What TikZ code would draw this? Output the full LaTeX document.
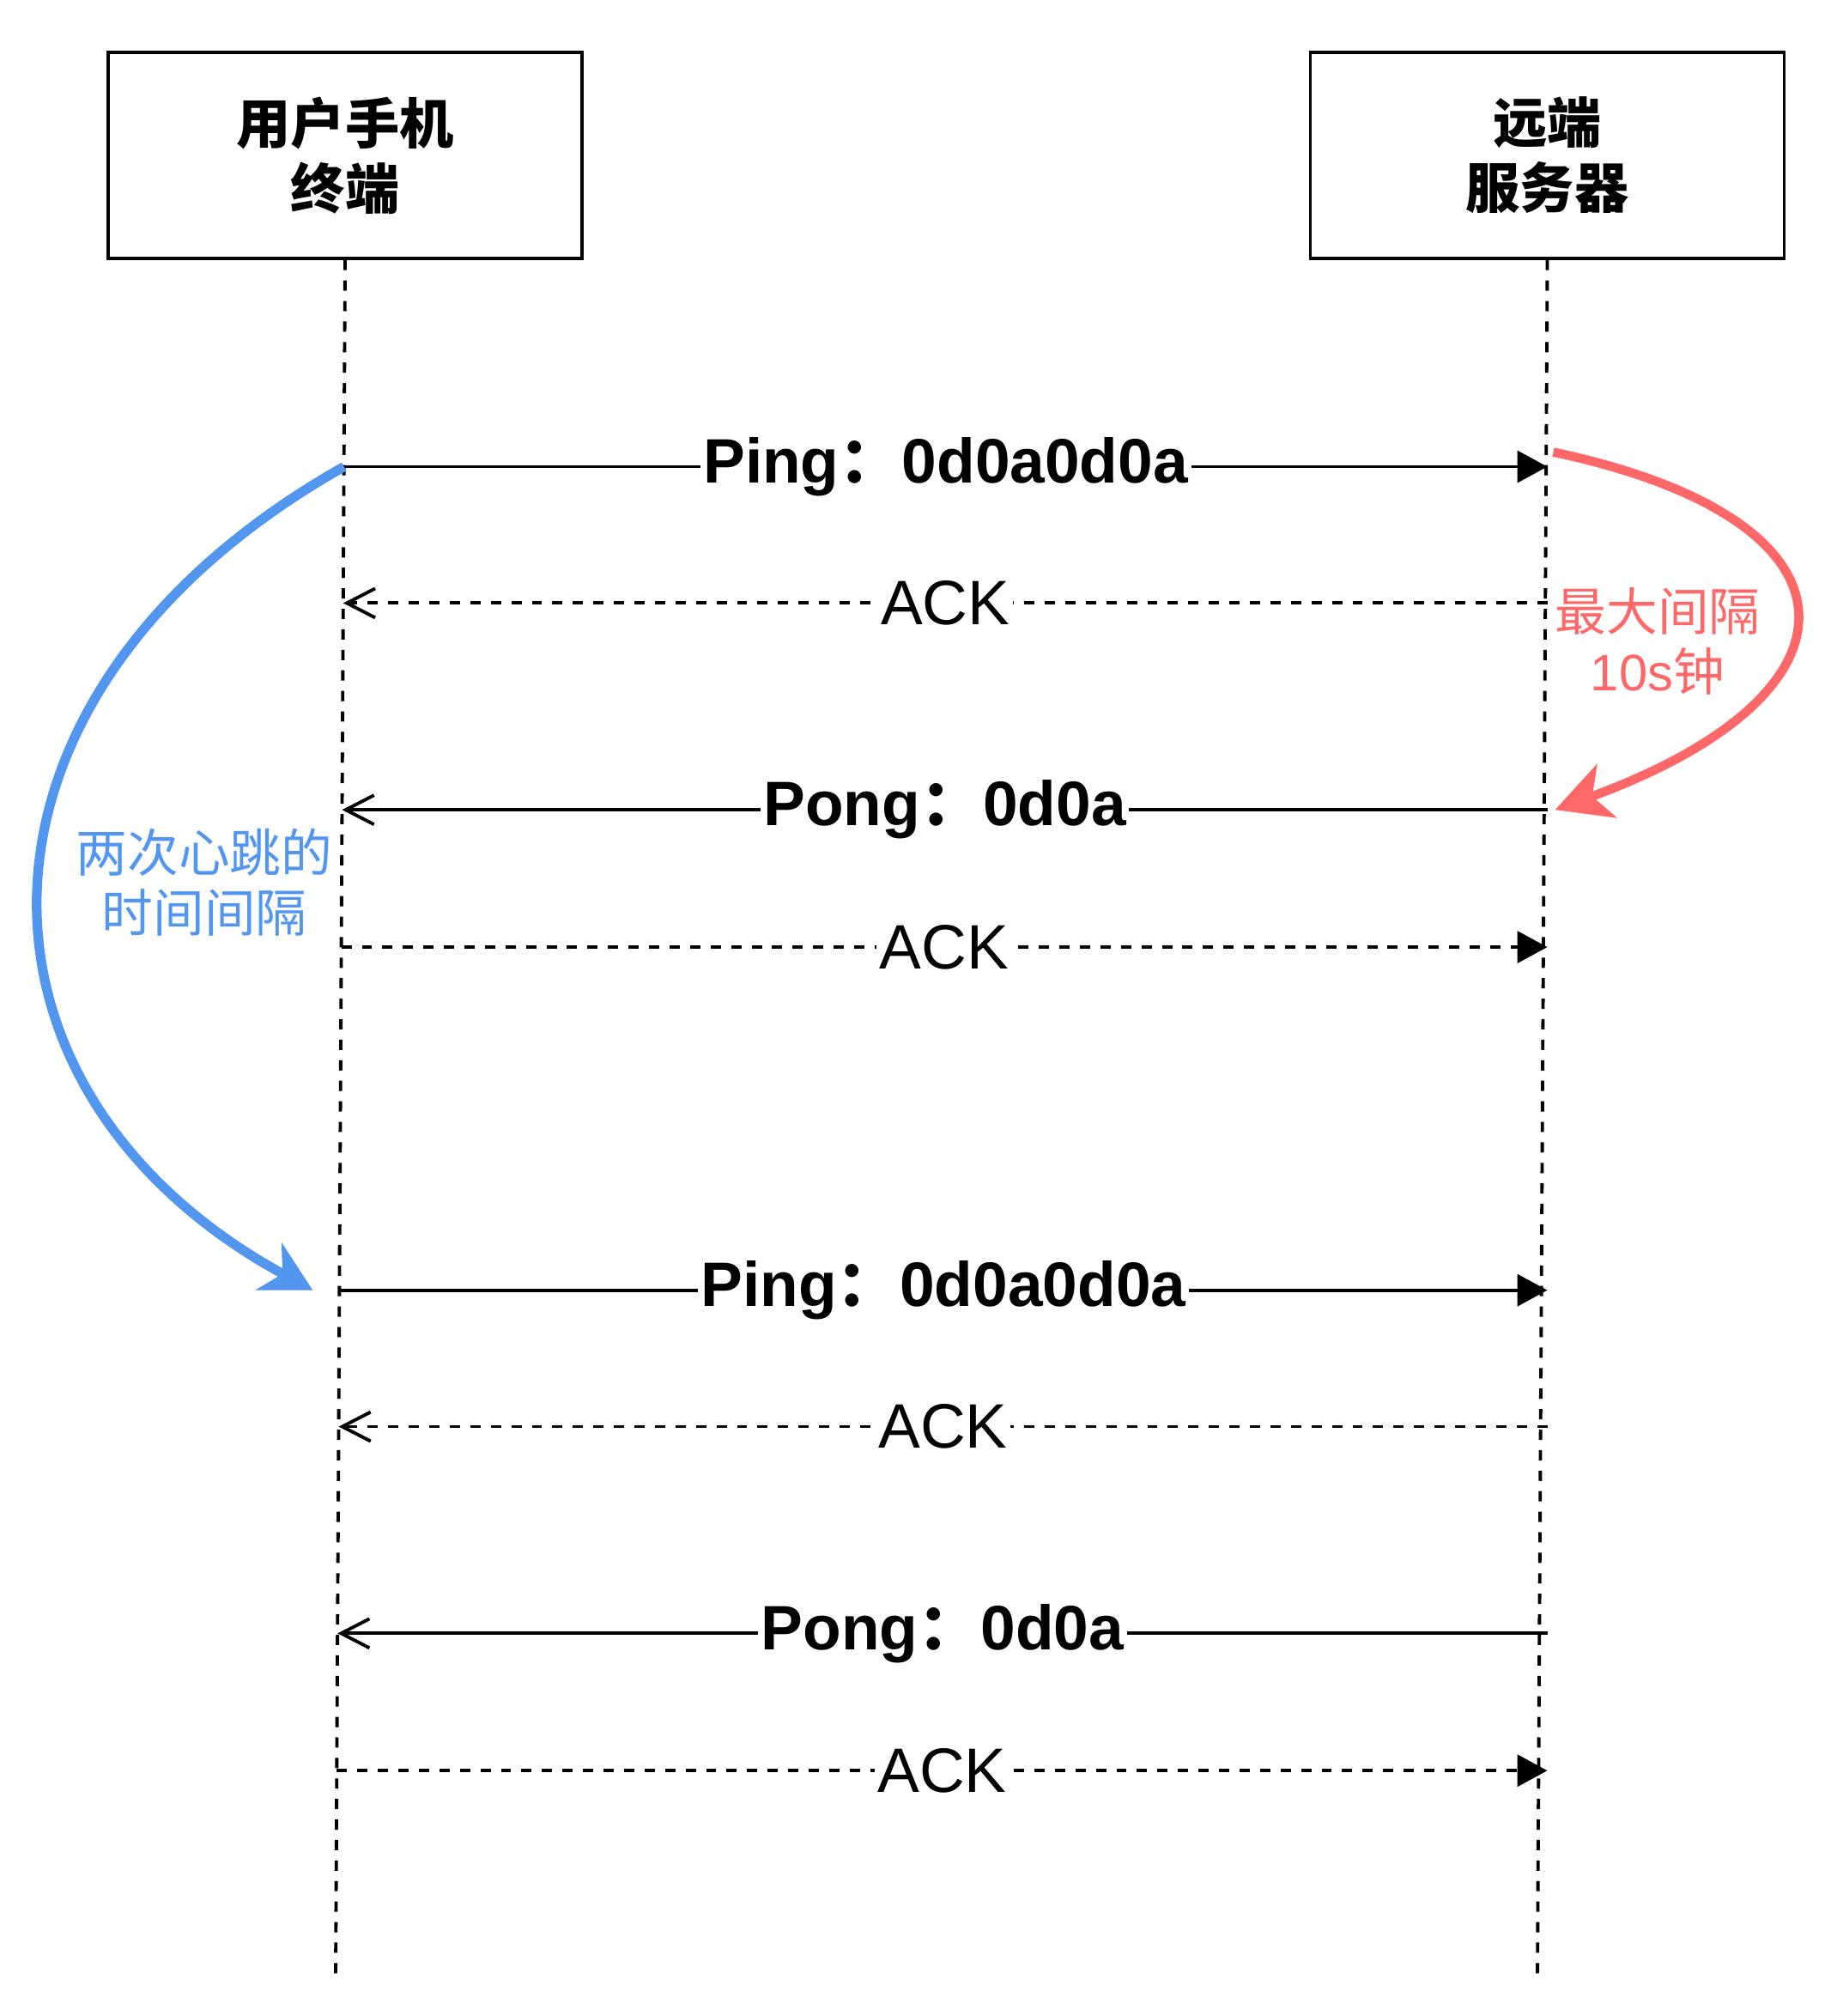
\documentclass[tikz,border=0pt]{standalone}
\usepackage{fontspec}
\setmainfont{Liberation Sans}
\newfontfamily\cjk{Noto Sans CJK SC}
\usetikzlibrary{arrows.meta, positioning, calc}

\definecolor{beatblue}{RGB}{82,150,240}
\definecolor{gapred}{RGB}{255,104,104}

\begin{document}
\begin{tikzpicture}[
    actor/.style={draw, line width=1pt, minimum width=5.52cm, minimum height=2.40cm,
      align=center, font=\cjk\fontsize{18}{21.6}\selectfont\bfseries},
    lifeline/.style={line width=1.1pt, dash pattern=on 3.4pt off 3.4pt},
    msg/.style={line width=1.1pt},
    reply/.style={line width=1.1pt, dash pattern=on 3.4pt off 3.4pt},
    msgtxt/.style={fill=white, inner sep=1pt, font=\fontsize{20.8}{25}\selectfont},
    msgbold/.style={msgtxt, font=\fontsize{20.8}{25}\selectfont\bfseries},
    fullhead/.style={-{Triangle[length=0.35cm, width=0.37cm]}},
    openhead/.style={-{Straight Barb[length=0.33cm, width=0.34cm]}},
    note/.style={align=center, font=\fontsize{17}{20}\selectfont}
  ]
  \useasboundingbox (0,0) rectangle (21.32,-23.48);

  % Actors
  \node[actor] (user) at (4.02,-1.81) {用户手机\\终端};
  \node[actor, right=8.45cm of user] (server) {远端\\服务器};

  % Lifelines
  \coordinate (userend) at (3.91,-23.01);
  \coordinate (serverend) at (17.91,-23.01);
  \draw[lifeline] (user.south) -- (userend);
  \draw[lifeline] (server.south) -- (serverend);

  % Two heartbeat rounds
  \foreach \rnd/\off in {1/0, 2/0.48} {
    \foreach \tg/\ff in {a/0.1205, b/0.2, c/0.3205, d/0.4005} {
      \coordinate (u\rnd\tg) at ($(user.south)!{\ff+\off}!(userend)$);
      \coordinate (s\rnd\tg) at (u\rnd\tg -| server.south);
    }
    \draw[msg, fullhead] (u\rnd a) -- (s\rnd a)
      node[midway, msgbold] {Ping{\cjk ：}0d0a0d0a};
    \draw[reply, openhead] (s\rnd b) -- (u\rnd b)
      node[midway, msgtxt] {ACK};
    \draw[msg, openhead] (s\rnd c) -- (u\rnd c)
      node[midway, msgbold] {Pong{\cjk ：}0d0a};
    \draw[reply, fullhead] (u\rnd d) -- (s\rnd d)
      node[midway, msgtxt] {ACK};
  }

  % Right: max interval
  \coordinate (redA) at ($(s1a)+(0.07,0.17)$);
  \coordinate (redB) at ($(s1c)+(0.09,0)$);
  \draw[gapred, line width=3pt, -{Stealth[length=0.64cm, width=0.66cm, inset=0.18cm]}]
    (redA) .. controls ($(redA)+(3.73,-0.79)$) and ($(redB)+(3.73,1.36)$) .. (redB);
  \node[note, text=gapred] (maxgap) at (19.31,-7.47) {{\cjk 最大间隔}\\10s{\cjk 钟}};

  % Left: time between two heartbeats
  \coordinate (blueB) at ($(u2a)+(-0.31,0)$);
  \draw[beatblue, line width=3.2pt, -{Stealth[length=0.58cm, width=0.62cm, inset=0.18cm]}]
    (u1a) .. controls ($(u1a)+(-4.67,-2.64)$) and ($(blueB)+(-4.27,2.32)$) .. (blueB);
  \node[note, text=beatblue, font=\cjk\fontsize{17}{20}\selectfont] (beatgap) at (2.38,-10.28) {两次心跳的\\时间间隔};
\end{tikzpicture}
\end{document}
